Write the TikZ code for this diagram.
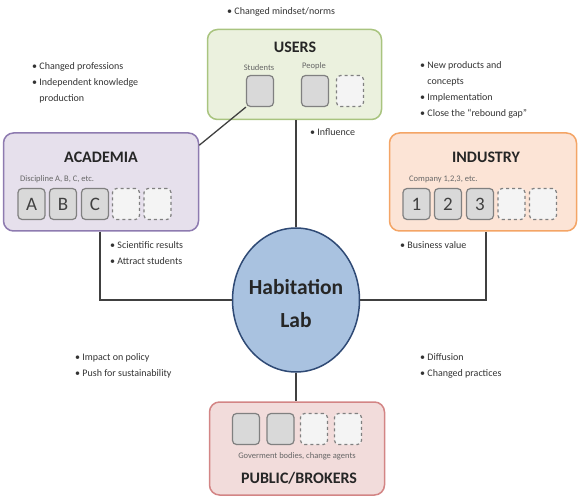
\documentclass[tikz,border=0pt]{standalone}
\usepackage{fontspec}
\setmainfont{Carlito}
\usetikzlibrary{shapes.geometric}
\definecolor{usfill}{HTML}{EBF1DE}
\definecolor{usdraw}{HTML}{A9C47F}
\definecolor{acfill}{HTML}{E6E0EC}
\definecolor{acdraw}{HTML}{8E7BB0}
\definecolor{infill}{HTML}{FCE4D6}
\definecolor{indraw}{HTML}{F4A566}
\definecolor{pbfill}{HTML}{F2DCDB}
\definecolor{pbdraw}{HTML}{D38585}
\definecolor{labfill}{HTML}{A9C2E0}
\definecolor{labdraw}{HTML}{2F4A75}
\definecolor{sqfill}{HTML}{D9D9D9}
\definecolor{sqdraw}{HTML}{808080}
\definecolor{dsqfill}{HTML}{F4F4F4}
\definecolor{txt}{HTML}{333333}
\tikzset{
  bigbox/.style={draw, line width=1.5pt, rounded corners=10pt, inner sep=0pt},
  sq/.style={draw=sqdraw, fill=sqfill, line width=1.2pt, rounded corners=4pt,
    minimum width=27pt, minimum height=31pt, inner sep=0pt,
    font=\fontsize{19}{19}\selectfont, text=black!75},
  dsq/.style={sq, fill=dsqfill, dashed},
  bul/.style={align=left, anchor=west, inner sep=0pt,
    font=\fontsize{10}{16}\selectfont, text=txt},
  ttl/.style={inner sep=0pt, font=\bfseries\fontsize{16}{16}\selectfont, text=black!85},
  sub/.style={inner sep=0pt, font=\fontsize{8.5}{9}\selectfont, text=black!60},
  conn/.style={line width=1.3pt, draw=black!75},
}
\begin{document}
\begin{tikzpicture}[x=1pt,y=-1pt]
\useasboundingbox (0,0) rectangle (579,500);
% main boxes
\node[bigbox, draw=usdraw, fill=usfill, minimum width=174pt, minimum height=90pt] (users) at (294.5,74.5) {};
\node[bigbox, draw=acdraw, fill=acfill, minimum width=195pt, minimum height=98pt] (acad) at (101,182) {};
\node[bigbox, draw=indraw, fill=infill, minimum width=187pt, minimum height=98pt] (ind) at (483,182) {};
\node[bigbox, draw=pbdraw, fill=pbfill, minimum width=175pt, minimum height=93pt] (pub) at (297,448.5) {};
\node[ellipse, draw=labdraw, fill=labfill, line width=1.5pt, minimum width=127pt, minimum height=144pt,
  inner sep=0pt] (lab) at (296,300) {};
\node[inner sep=0pt, align=center, font=\bfseries\fontsize{21.5}{33}\selectfont, text=black!85] (labt) at (296,304) {Habitation\\Lab};
% titles
\node[ttl] (ust) at (295,47.5) {USERS};
\node[ttl] (act) at (101,157) {ACADEMIA};
\node[ttl] (int) at (486,157) {INDUSTRY};
\node[ttl] (pbt) at (299,478) {PUBLIC/BROKERS};
% users content
\node[sub] (stl) at (259,68) {Students};
\node[sub] (ppl) at (314,66) {People};
\node[sq] (us1) at (260,91) {};
\node[sq] (us2) at (315,91) {};
\node[dsq] (us3) at (350,91) {};
% academia content
\node[sub, anchor=west] (dis) at (20,179) {Discipline A, B, C, etc.};
\node[sq] (a1) at (31.5,204) {A};
\node[sq] (a2) at (63,204) {B};
\node[sq] (a3) at (95,204) {C};
\node[dsq] (a4) at (126,204) {};
\node[dsq] (a5) at (157.5,204) {};
% industry content
\node[sub, anchor=west] (comp) at (409,179) {Company 1,2,3, etc.};
\node[sq] (i1) at (416.5,204) {1};
\node[sq] (i2) at (448,204) {2};
\node[sq] (i3) at (480,204) {3};
\node[dsq] (i4) at (511.5,204) {};
\node[dsq] (i5) at (543,204) {};
% public content
\node[sq] (p1) at (246,429) {};
\node[sq] (p2) at (280.5,429) {};
\node[dsq] (p3) at (314,429) {};
\node[dsq] (p4) at (348,429) {};
\node[sub] (gov) at (297,456) {Goverment bodies, change agents};
% connectors
\coordinate (acj) at (100,300);
\coordinate (inj) at (486,300);
\draw[conn] (us1.south west) -- ([yshift=-13pt]acad.north east);
\draw[conn] (users.south -| lab.north) -- (lab.north);
\draw[conn] (lab.south) -- (pub.north -| lab.south);
\draw[conn] (acad.south -| acj) -- (acj) -- (acj -| lab.west);
\draw[conn] (ind.south -| inj) -- (inj) -- (inj -| lab.east);
% bullet texts
\node[bul] (b1) at (227,12) {\textbullet\ Changed mindset/norms};
\node[bul] (b2) at (32,83) {\textbullet\ Changed professions\\\textbullet\ Independent knowledge\\\phantom{\textbullet\ }production};
\node[bul] (b3) at (420,90) {\textbullet\ New products and\\\phantom{\textbullet\ }concepts\\\textbullet\ Implementation\\\textbullet\ Close the “rebound gap”};
\node[bul] (b4) at (310,132) {\textbullet\ Influence};
\node[bul] (b5) at (110,253) {\textbullet\ Scientific results\\\textbullet\ Attract students};
\node[bul] (b6) at (400,245) {\textbullet\ Business value};
\node[bul] (b7) at (75,365.5) {\textbullet\ Impact on policy\\\textbullet\ Push for sustainability};
\node[bul] (b8) at (420,366) {\textbullet\ Diffusion\\\textbullet\ Changed practices};
\end{tikzpicture}
\end{document}
